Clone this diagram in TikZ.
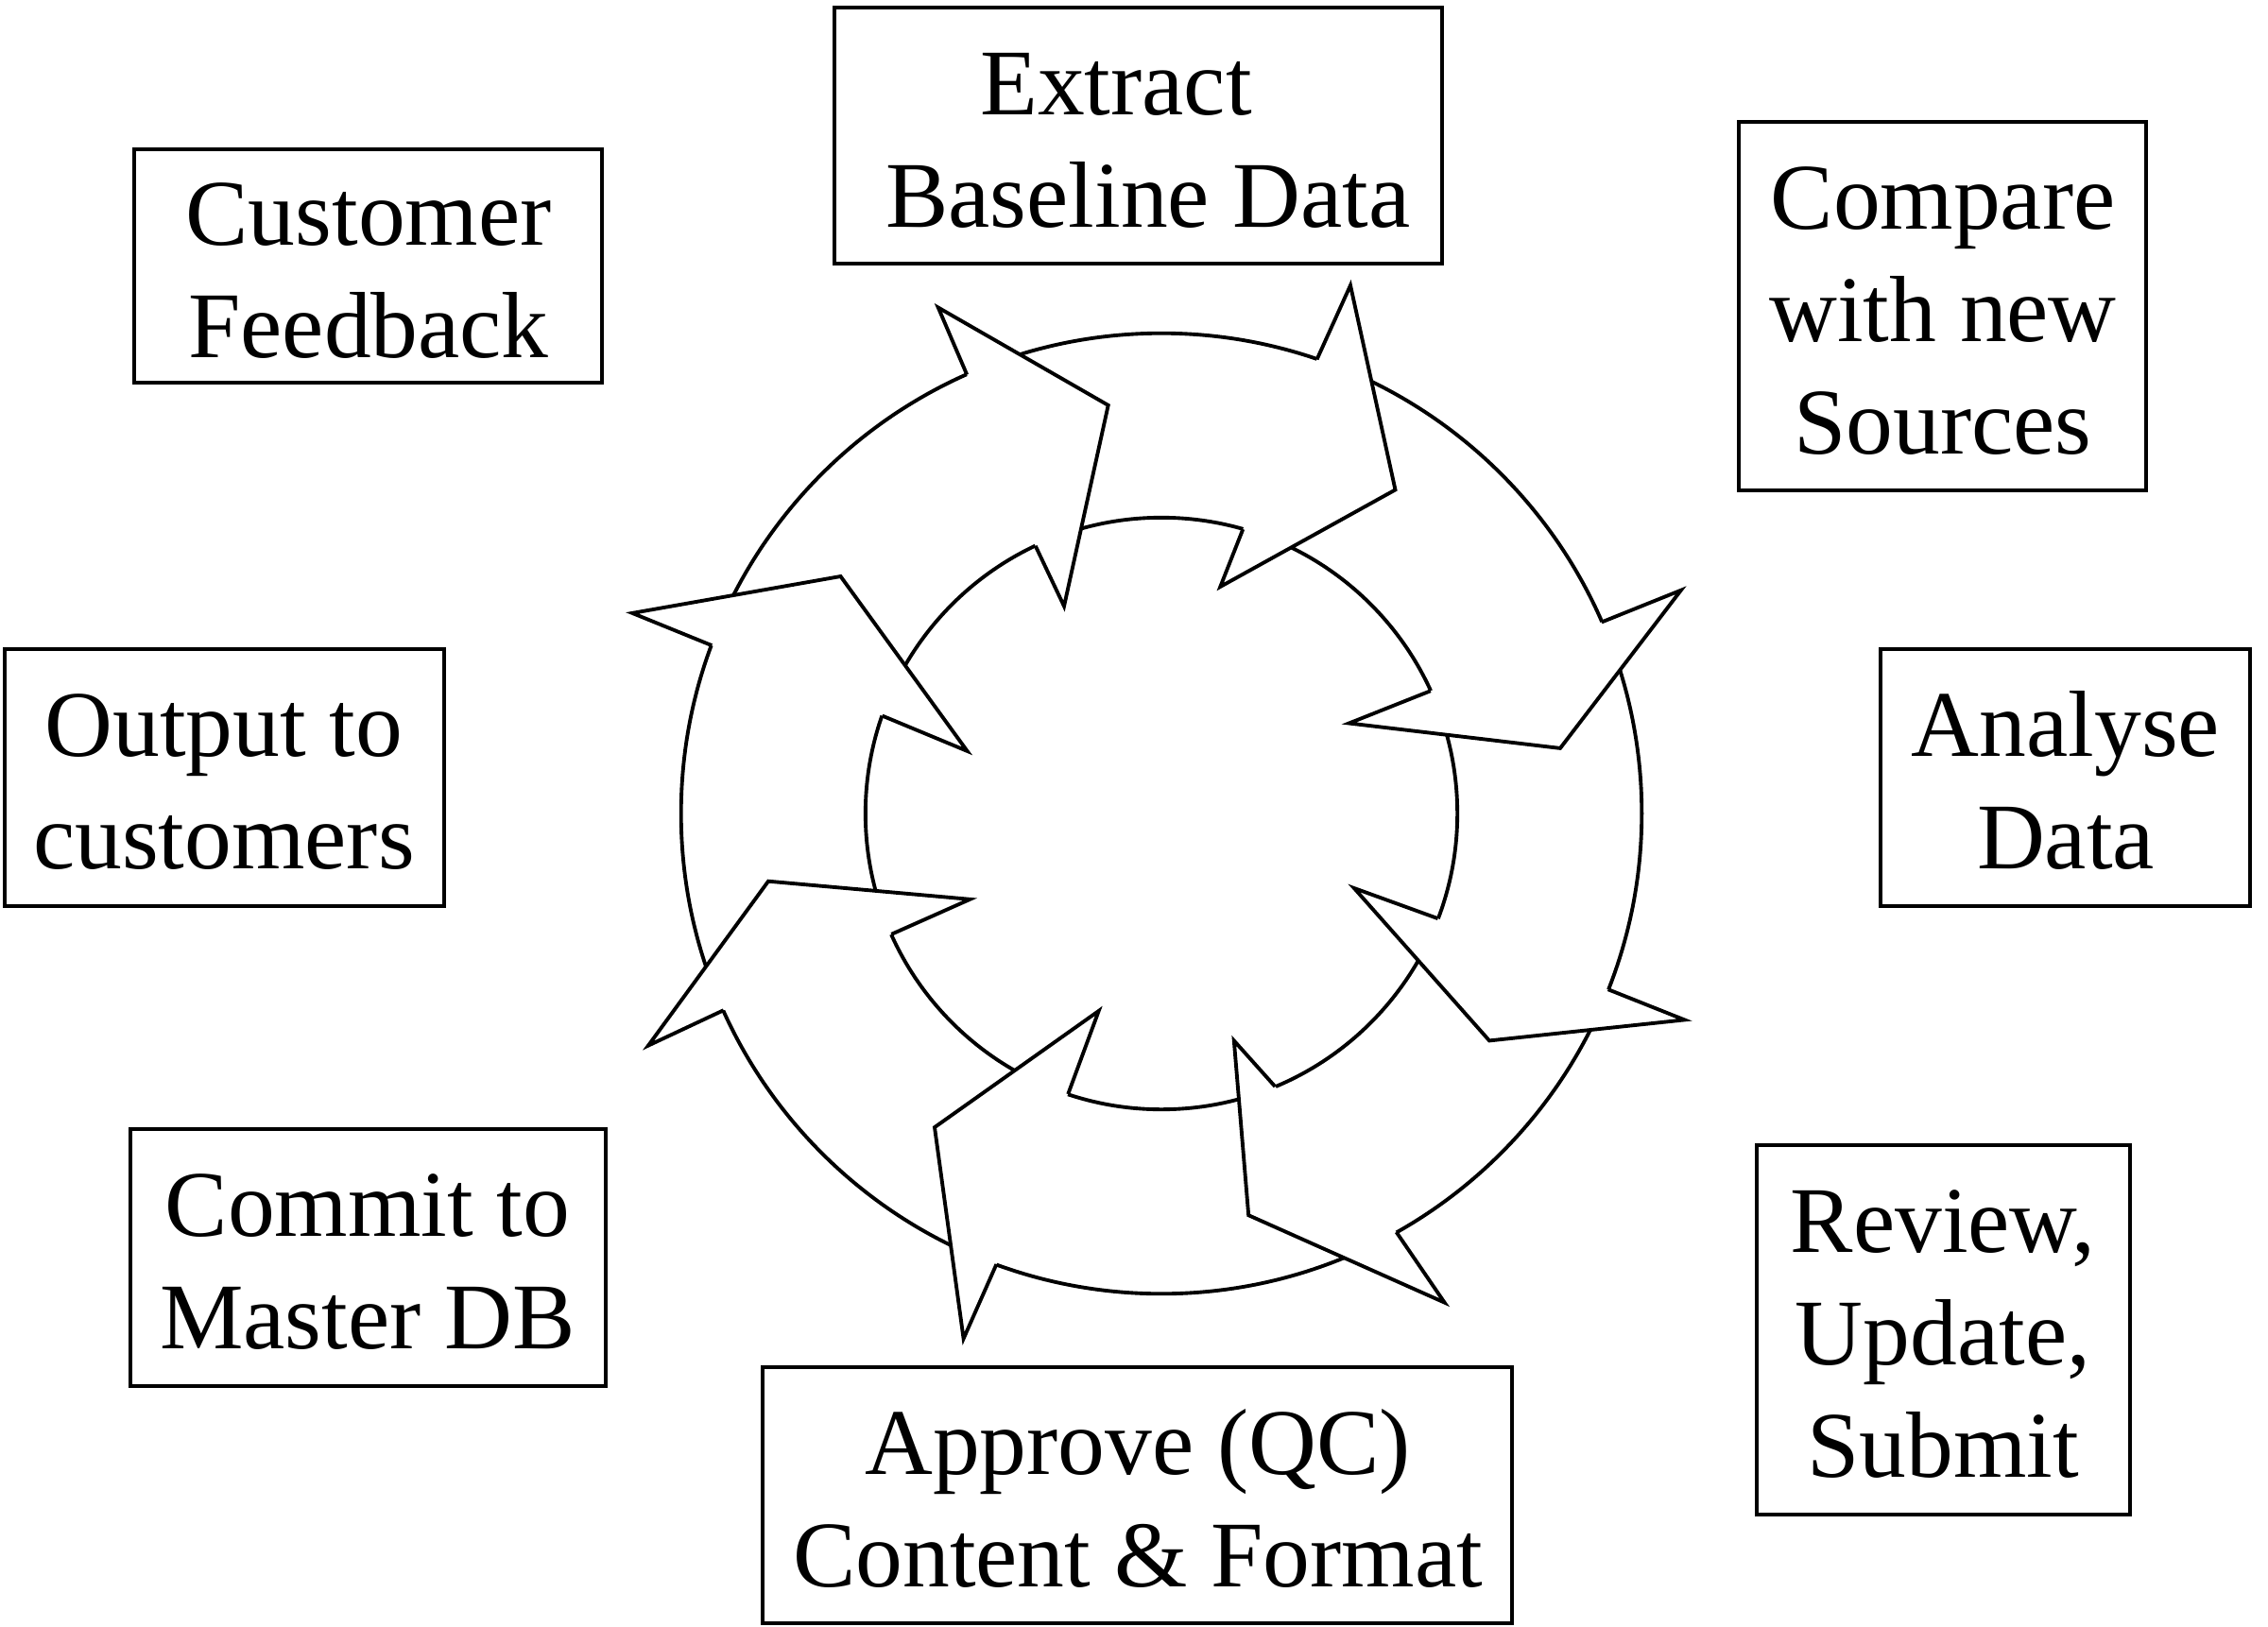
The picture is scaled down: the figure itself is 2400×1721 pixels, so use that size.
\documentclass[tikz,border=0pt]{standalone}
\usepackage{fontspec}
\setmainfont{Liberation Serif}
\usetikzlibrary{calc}
\begin{document}
\begin{tikzpicture}[x=0.01cm,y=-0.01cm,
  box/.style={draw, line width=1.1pt, inner sep=0pt, outer sep=0pt, rectangle},
  lbl/.style={anchor=base, inner sep=0pt, outer sep=0pt, font=\fontsize{28.3}{34}\selectfont},
  ring/.style={line width=1.1pt},
  headline/.style={line width=1.1pt, line join=miter},
]
\path[use as bounding box] (0,0) rectangle (2400,1721);
\coordinate (C) at (1229,861);
\draw[ring] (C) circle[radius=5.08cm];
\draw[ring] (C) circle[radius=3.13cm];

\newcommand\headshape[6]{%
  \coordinate (#1o) at ($(C)+(#2:508)$);
  \coordinate (#1i) at ($(C)+(#3:313)$);
  \coordinate (#1b) at #4;
  \coordinate (#1t) at #5;
  \coordinate (#1c) at #6;
  \fill[white] (#1o) -- (#1b) -- (#1t) -- (#1c) -- (#1i) -- cycle;
  \draw[headline] (#1o) -- (#1b) -- (#1t) -- (#1c) -- (#1i);
}
\headshape{ha}{-113.9}{-115.2}{(992.8,325.5)}{(1172.7,428.9)}{(1126,641.6)}
\headshape{hb}{-71.1}{-74.0}{(1429,302)}{(1476.5,518.4)}{(1291.3,621)}
\headshape{hc}{-23.5}{-24.5}{(1778.8,624.7)}{(1651,791.9)}{(1427.5,765.5)}
\headshape{hd}{21.5}{20.8}{(1782.6,1079.4)}{(1576,1101.4)}{(1432.9,940)}
\headshape{he}{60.7}{67.4}{(1528.6,1378.6)}{(1321.2,1286.2)}{(1305.8,1101.4)}
\headshape{hf}{110.1}{108.4}{(1019.6,1416.8)}{(989,1193.1)}{(1162.7,1069.9)}
\headshape{hg}{155.8}{155.9}{(686,1106.6)}{(813,932.7)}{(1026.5,951.8)}
\headshape{hh}{-159.5}{-160.7}{(669.1,648.9)}{(889.5,610)}{(1023.5,794.9)}

% boxes
\node[box, minimum width=6.43cm, minimum height=2.71cm] (bext) at (1204.5,143.5) {};
\node[box, minimum width=4.95cm, minimum height=2.47cm] (bcus) at (389.5,281.5) {};
\node[box, minimum width=4.31cm, minimum height=3.90cm] (bcmp) at (2055.5,324) {};
\node[box, minimum width=4.65cm, minimum height=2.72cm] (bout) at (237.5,823) {};
\node[box, minimum width=3.91cm, minimum height=2.72cm] (bana) at (2185.5,823) {};
\node[box, minimum width=5.03cm, minimum height=2.72cm] (bcom) at (389.5,1331) {};
\node[box, minimum width=3.95cm, minimum height=3.91cm] (brev) at (2056.5,1407.5) {};
\node[box, minimum width=7.93cm, minimum height=2.71cm] (bapp) at (1203.5,1582.5) {};

% labels
\node[lbl] (text1) at (1181,121) {Extract};
\node[lbl] (text2) at (1215,240) {Baseline Data};
\node[lbl] (tcus1) at (390,259) {Customer};
\node[lbl] (tcus2) at (390,378) {Feedback};
\node[lbl] (tcmp1) at (2056,242) {Compare};
\node[lbl] (tcmp2) at (2056,361) {with new};
\node[lbl] (tcmp3) at (2056,480) {Sources};
\node[lbl] (tout1) at (237,800) {Output to};
\node[lbl] (tout2) at (237,919) {customers};
\node[lbl] (tana1) at (2186,800) {Analyse};
\node[lbl] (tana2) at (2186,919) {Data};
\node[lbl] (tcom1) at (389,1308) {Commit to};
\node[lbl] (tcom2) at (389,1427) {Master DB};
\node[lbl] (trev1) at (2056,1325) {Review,};
\node[lbl] (trev2) at (2056,1444) {Update,};
\node[lbl] (trev3) at (2056,1563) {Submit};
\node[lbl] (tapp1) at (1204,1560) {Approve (QC)};
\node[lbl] (tapp2) at (1204,1679) {Content \& Format};
\end{tikzpicture}
\end{document}
